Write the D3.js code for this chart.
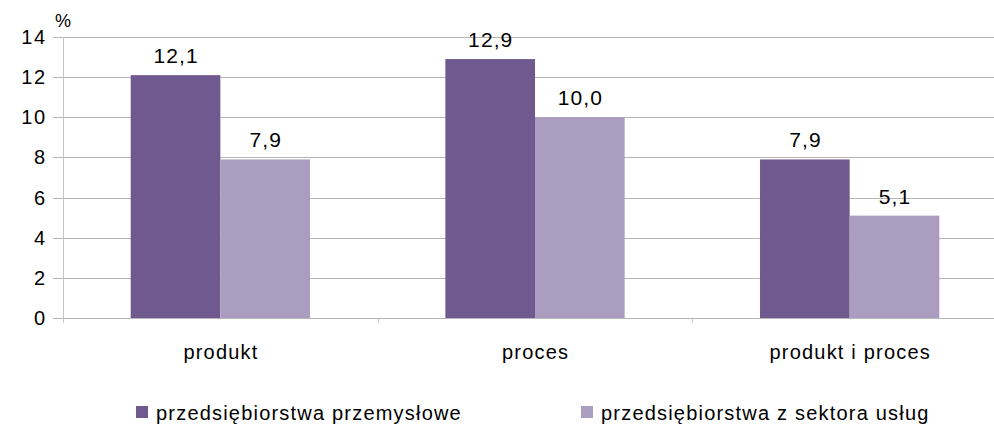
<!DOCTYPE html>
<html>
<head>
<meta charset="utf-8">
<script src="https://cdn.jsdelivr.net/npm/d3@7"></script>
<style>
  body { margin: 0; background: #fff; }
  text { font-family: "Liberation Sans", Arial, sans-serif; fill: #000; }
</style>
</head>
<body>
<div id="chart"></div>
<script>
var categories = ["produkt", "proces", "produkt i proces"];
var seriesNames = ["przedsiębiorstwa przemysłowe", "przedsiębiorstwa z sektora usług"];
var przemyslowe = [12.1, 12.9, 7.9];
var uslugi = [7.9, 10.0, 5.1];
var yTicks = [0, 2, 4, 6, 8, 10, 12, 14];
var colors = ["#6f598e", "#ab9dc0"];

var width = 994,
    height = 428;

var x0 = 63, plotRight = 1007, y0 = 318, yTop = 37;

var svg = d3.select("#chart").append("svg")
    .attr("width", width)
    .attr("height", height)

var x = d3.scaleBand()
    .domain(categories)
    .range([x0, plotRight])
    .paddingInner(0)
    .paddingOuter(0);

// two bars per group, centred in the band
var xSub = d3.scaleBand()
    .domain([0, 1])
    .range([0, x.bandwidth()])
    .paddingOuter(0.755)
    .paddingInner(0);

var y = d3.scaleLinear()
    .domain([0, 14])
    .range([y0, yTop]);

// gridlines
svg.selectAll(".grid")
    .data(yTicks).enter().append("line")
    .attr("x1", x0 - 10)
    .attr("x2", width)
    .attr("y1", function (d) { return Math.round(y(d)) + 0.5; })
    .attr("y2", function (d) { return Math.round(y(d)) + 0.5; })
    .attr("stroke", "#b5b5b5")
    .attr("stroke-width", 1)

// y axis line
svg.append("line")
    .attr("x1", x0 + 0.5).attr("x2", x0 + 0.5)
    .attr("y1", y(14)).attr("y2", y0 + 5)
    .attr("stroke", "#c4c4c4")

// category ticks
var bounds = categories.map(function (c) { return x(c); }).concat([plotRight]);
svg.selectAll(".ctick")
    .data(bounds.slice(1)).enter().append("line")
    .attr("x1", function (d) { return Math.round(d) + 0.5; })
    .attr("x2", function (d) { return Math.round(d) + 0.5; })
    .attr("y1", y0)
    .attr("y2", y0 + 5)
    .attr("stroke", "#c4c4c4")

// y labels
svg.selectAll(".ylab")
    .data(yTicks).enter().append("text")
    .attr("x", 47)
    .attr("y", function (d) { return y(d) + 7; })
    .attr("text-anchor", "end")
    .attr("font-size", 20)
    .attr("letter-spacing", 1.8)
    .text(function (d) { return d; })

svg.append("text")
    .attr("x", 55).attr("y", 27)
    .attr("font-size", 18)
    .attr("letter-spacing", 1)
    .text("%")

var rows = categories.map(function (c, i) {
    return { cat: c, values: [przemyslowe[i], uslugi[i]] };
});

var g = svg.selectAll(".cat")
    .data(rows).enter().append("g")
    .attr("transform", function (d) { return "translate(" + x(d.cat) + ",0)"; })

g.selectAll("rect")
    .data(function (d) { return d.values; }).enter().append("rect")
    .attr("x", function (d, i) { return xSub(i); })
    .attr("width", xSub.bandwidth())
    .attr("y", function (d) { return y(d); })
    .attr("height", function (d) { return y0 - y(d); })
    .attr("fill", function (d, i) { return colors[i]; })

g.selectAll(".val")
    .data(function (d) { return d.values; }).enter().append("text")
    .attr("x", function (d, i) { return xSub(i) + xSub.bandwidth() / 2 + 0.6; })
    .attr("y", function (d) { return y(d) - 12; })
    .attr("text-anchor", "middle")
    .attr("font-size", 21)
    .attr("letter-spacing", 1.1)
    .text(function (d) { return d.toFixed(1).replace(".", ","); })

g.append("text")
    .attr("x", x.bandwidth() / 2 + 0.6)
    .attr("y", 359)
    .attr("text-anchor", "middle")
    .attr("font-size", 20)
    .attr("letter-spacing", 1.2)
    .text(function (d) { return d.cat; })

// legend
var legendX = [136, 581];
var leg = svg.selectAll(".leg")
    .data(seriesNames).enter().append("g")
    .attr("transform", function (d, i) { return "translate(" + legendX[i] + ",406)"; })

leg.append("rect")
    .attr("width", 12).attr("height", 12)
    .attr("fill", function (d, i) { return colors[i]; })

leg.append("text")
    .attr("x", 20).attr("y", 14)
    .attr("font-size", 20)
    .attr("letter-spacing", 1.2)
    .text(function (d) { return d; })
</script>
</body>
</html>
